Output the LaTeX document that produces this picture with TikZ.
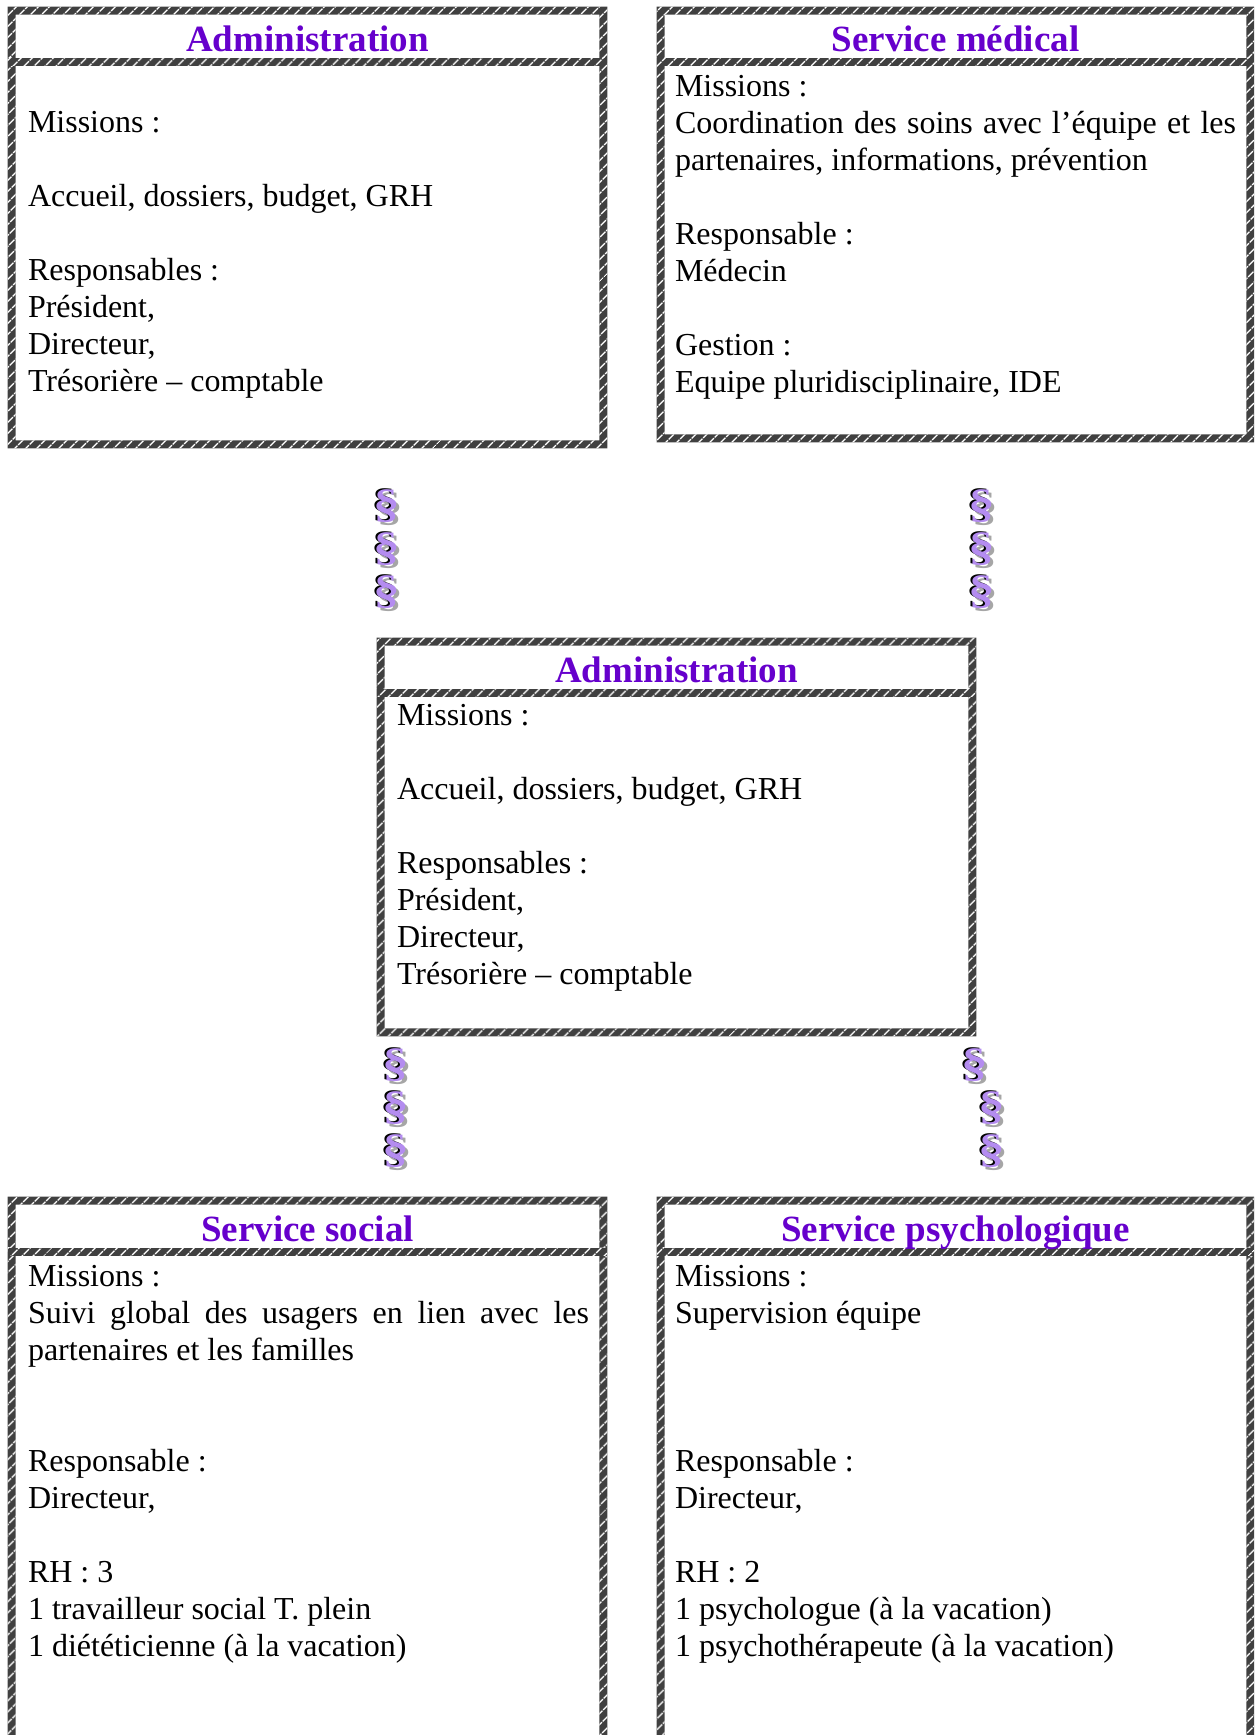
\documentclass[tikz,border=0pt]{standalone}
\usepackage{graphicx}
\usepackage{fontspec}
\setmainfont{Liberation Serif}
\usetikzlibrary{positioning,fit,calc,patterns.meta}
\definecolor{violetfonce}{HTML}{6600CC}
\definecolor{violetclair}{HTML}{B48CF0}
\newcommand{\paraf}{\scalebox{1.3}[1]{%
  \makebox[0pt][l]{\kern1pt\raisebox{-1.2pt}{\textcolor{black!35}{\S}}}%
  \makebox[0pt][l]{\kern-0.9pt\raisebox{0.8pt}{\S}}%
  \textcolor{violetclair}{\S}}}

\begin{document}
\begin{tikzpicture}[x=0.5pt,y=-0.5pt]
  \tikzset{
    node distance=21.5pt,
    boite/.style={inner sep=0pt},
    cadre/.style={even odd rule,fill=black!75,
      postaction={even odd rule,pattern={Lines[angle=45,distance=4pt,line width=0.8pt]},pattern color=white}},
    titre/.style={anchor=base,inner sep=0pt,text=violetfonce,
      font=\fontsize{18.5}{22}\selectfont\bfseries},
    texte/.style={anchor=base west,inner sep=0pt,align=justify,text width=280.5pt,
      font=\fontsize{16}{18.5}\selectfont},
    para/.style={inner sep=0pt,font=\fontsize{20.5}{20.5}\selectfont\bfseries}
  }
  \clip (0,0) rectangle (1254,1735);

  % les cadres
  \node[boite,fit={(8,7) (607,448)}] (adm1) {};
  \node[boite,fit={(657,7) (1254,442)}] (med) {};
  \node[boite,fit={(377,638) (976,1036)}] (adm2) {};
  \node[boite,fit={(8,1197) (607,1760)}] (soc) {};
  \node[boite,fit={(657,1197) (1254,1760)}] (psy) {};

  \path[cadre] (adm1.north west) rectangle (adm1.south east)
    ([shift={(8,8)}]adm1.north west) rectangle ([shift={(-8,-8)}]adm1.south east);
  \path[cadre] ($(adm1.north west)+(0,51)$) rectangle ($(adm1.north east)+(0,59)$);
  \path[cadre] (med.north west) rectangle (med.south east)
    ([shift={(8,8)}]med.north west) rectangle ([shift={(-8,-8)}]med.south east);
  \path[cadre] ($(med.north west)+(0,51)$) rectangle ($(med.north east)+(0,59)$);
  \path[cadre] (adm2.north west) rectangle (adm2.south east)
    ([shift={(8,8)}]adm2.north west) rectangle ([shift={(-8,-8)}]adm2.south east);
  \path[cadre] ($(adm2.north west)+(0,51)$) rectangle ($(adm2.north east)+(0,59)$);
  \path[cadre] (soc.north west) rectangle (soc.south east)
    ([shift={(8,8)}]soc.north west) rectangle ([shift={(-8,-8)}]soc.south east);
  \path[cadre] ($(soc.north west)+(0,51)$) rectangle ($(soc.north east)+(0,59)$);
  \path[cadre] (psy.north west) rectangle (psy.south east)
    ([shift={(8,8)}]psy.north west) rectangle ([shift={(-8,-8)}]psy.south east);
  \path[cadre] ($(psy.north west)+(0,51)$) rectangle ($(psy.north east)+(0,59)$);

  % titres
  \node[titre] (adm1-t) at ($(adm1.north)+(0,45)$) {Administration};
  \node[titre] (med-t) at ($(med.north)+(0,45)$) {Service médical};
  \node[titre] (adm2-t) at ($(adm2.north)+(0,45)$) {Administration};
  \node[titre] (soc-t) at ($(soc.north)+(0,45)$) {Service social};
  \node[titre] (psy-t) at ($(psy.north)+(0,45)$) {Service psychologique};

  % textes
  \node[texte] (adm1-x) at ($(adm1.north west)+(20,126)$) {Missions :\\ \mbox{}\\
    Accueil, dossiers, budget, GRH\\ \mbox{}\\ Responsables :\\ Président,\\
    Directeur,\\ Trésorière – comptable};
  \node[texte] (med-x) at ($(med.north west)+(18,90)$) {Missions :\\
    Coordination des soins avec l’équipe et les\linebreak
    partenaires, informations, prévention\\ \mbox{}\\ Responsable :\\ Médecin\\
    \mbox{}\\ Gestion :\\ Equipe pluridisciplinaire, IDE};
  \node[texte] (adm2-x) at ($(adm2.north west)+(20,88)$) {Missions :\\ \mbox{}\\
    Accueil, dossiers, budget, GRH\\ \mbox{}\\ Responsables :\\ Président,\\
    Directeur,\\ Trésorière – comptable};
  \node[texte] (soc-x) at ($(soc.north west)+(20,90)$) {Missions :\\
    Suivi global des usagers en lien avec les\linebreak
    partenaires et les familles\\ \mbox{}\\ \mbox{}\\ Responsable :\\ Directeur,\\
    \mbox{}\\ RH : 3\\ 1 travailleur social T. plein\\ 1 diététicienne (à la vacation)};
  \node[texte] (psy-x) at ($(psy.north west)+(18,90)$) {Missions :\\
    Supervision équipe\\ \mbox{}\\ \mbox{}\\ \mbox{}\\ Responsable :\\ Directeur,\\
    \mbox{}\\ RH : 2\\ 1 psychologue (à la vacation)\\ 1 psychothérapeute (à la vacation)};

  % paragraphes entre les cadres
  \node[para] (g1) at (387,507) {\paraf};
  \node[para,below of=g1] (g2) {\paraf};
  \node[para,below of=g2] (g3) {\paraf};
  \node[para] (d1) at (982,507) {\paraf};
  \node[para,below of=d1] (d2) {\paraf};
  \node[para,below of=d2] (d3) {\paraf};
  \node[para] (g4) at (396,1066) {\paraf};
  \node[para,below of=g4] (g5) {\paraf};
  \node[para,below of=g5] (g6) {\paraf};
  \node[para] (d4) at (975,1066) {\paraf};
  \node[para,below of=d4,xshift=8.5pt] (d5) {\paraf};
  \node[para,below of=d5] (d6) {\paraf};
\end{tikzpicture}
\end{document}
